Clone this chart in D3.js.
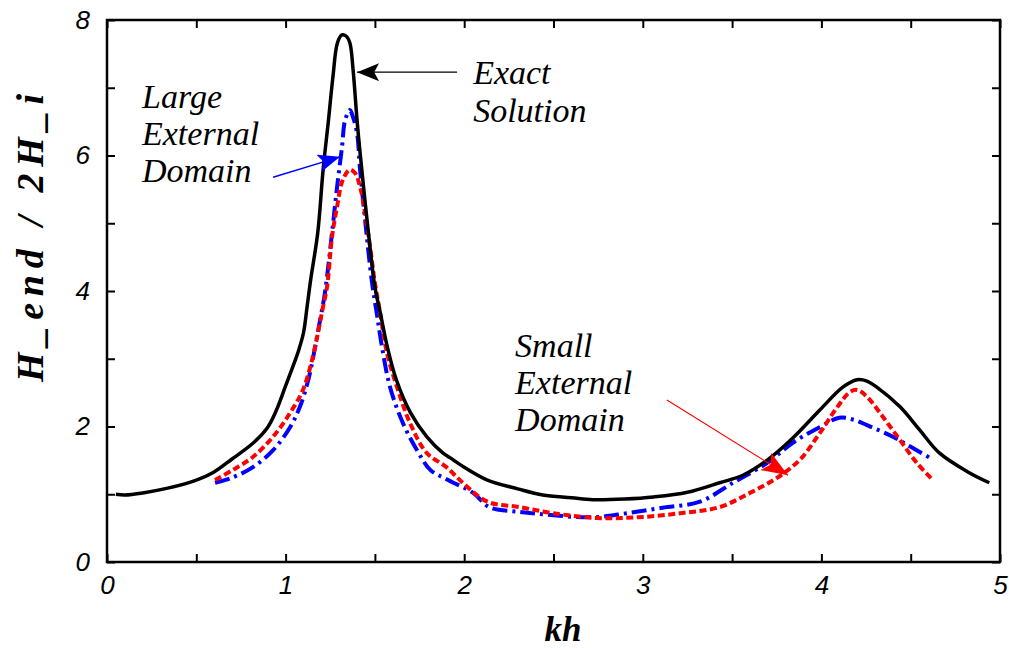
<!DOCTYPE html>
<html>
<head>
<meta charset="utf-8">
<script src="https://cdn.jsdelivr.net/npm/d3@7"></script>
<style>
  body { margin: 0; background: #fff; }
</style>
</head>
<body>
<svg id="chart" width="1009" height="648"></svg>
<script>
// --- values ---
const exactKh = [0.05, 0.1, 0.2, 0.34, 0.5, 0.6, 0.7, 0.82, 0.9, 0.95, 1.0, 1.05, 1.07, 1.1, 1.12, 1.14, 1.18, 1.21, 1.24, 1.265, 1.29, 1.315, 1.34, 1.36, 1.378, 1.4, 1.417, 1.456, 1.5, 1.53, 1.57, 1.62, 1.7, 1.79, 1.88, 1.92, 2.0, 2.13, 2.3, 2.44, 2.6, 2.72, 2.9, 3.06, 3.25, 3.43, 3.56, 3.7, 3.84, 3.99, 4.12, 4.2, 4.255, 4.31, 4.44, 4.55, 4.66, 4.82, 4.94];
const exactH  = [1.0, 0.99, 1.02, 1.09, 1.21, 1.33, 1.52, 1.76, 1.99, 2.25, 2.6, 2.95, 3.1, 3.38, 3.76, 4.16, 4.86, 5.79, 6.52, 7.16, 7.66, 7.78, 7.76, 7.66, 7.26, 6.52, 6.04, 5.05, 4.06, 3.68, 3.17, 2.69, 2.2, 1.85, 1.61, 1.54, 1.4, 1.21, 1.08, 0.99, 0.95, 0.92, 0.93, 0.96, 1.03, 1.17, 1.28, 1.51, 1.83, 2.24, 2.58, 2.69, 2.67, 2.58, 2.29, 1.95, 1.61, 1.33, 1.17];

const largeKh = [0.605, 0.705, 0.817, 0.93, 1.025, 1.08, 1.13, 1.165, 1.193, 1.22, 1.26, 1.288, 1.316, 1.333, 1.36, 1.377, 1.4, 1.417, 1.445, 1.484, 1.51, 1.54, 1.585, 1.657, 1.736, 1.81, 1.91, 2.05, 2.14, 2.31, 2.5, 2.72, 2.91, 3.11, 3.32, 3.505, 3.695, 3.84, 3.99, 4.1, 4.18, 4.255, 4.4, 4.5, 4.625];
const largeH  = [1.17, 1.25, 1.4, 1.65, 1.99, 2.29, 2.72, 3.17, 3.57, 3.97, 4.86, 5.53, 6.13, 6.52, 6.67, 6.57, 6.33, 5.79, 5.05, 4.12, 3.68, 3.17, 2.58, 2.05, 1.65, 1.36, 1.21, 1.02, 0.81, 0.74, 0.69, 0.66, 0.72, 0.8, 0.89, 1.17, 1.46, 1.76, 1.99, 2.13, 2.1, 2.02, 1.85, 1.7, 1.51];

const smallKh = [0.605, 0.705, 0.817, 0.93, 1.025, 1.097, 1.148, 1.181, 1.209, 1.232, 1.26, 1.288, 1.32, 1.36, 1.389, 1.417, 1.445, 1.473, 1.5, 1.529, 1.568, 1.624, 1.697, 1.79, 1.9, 2.0, 2.13, 2.31, 2.5, 2.74, 2.97, 3.21, 3.43, 3.6, 3.75, 3.88, 3.99, 4.09, 4.16, 4.2, 4.255, 4.345, 4.44, 4.535, 4.625];
const smallH  = [1.21, 1.36, 1.55, 1.85, 2.2, 2.54, 2.98, 3.38, 3.76, 4.06, 4.8, 5.24, 5.64, 5.79, 5.74, 5.54, 5.15, 4.65, 4.12, 3.68, 3.08, 2.58, 2.05, 1.61, 1.4, 1.15, 0.89, 0.81, 0.72, 0.65, 0.66, 0.72, 0.81, 1.02, 1.24, 1.51, 1.9, 2.29, 2.51, 2.54, 2.44, 2.14, 1.8, 1.46, 1.21];

const xTicks = [0, 0.5, 1, 1.5, 2, 2.5, 3, 3.5, 4, 4.5, 5];
const yTicks = [0, 1, 2, 3, 4, 5, 6, 7, 8];

const svg = d3.select('#chart');

const x = d3.scaleLinear().domain([0, 5]).range([107, 1000]);
const y = d3.scaleLinear().domain([0, 8]).range([562, 20]);

// arrow heads
const defs = svg.append('defs');
function head(id, color, len, half) {
  defs.append('marker')
    .attr('id', id)
    .attr('markerUnits', 'userSpaceOnUse')
    .attr('viewBox', `${-len} ${-half} ${len} ${2 * half}`)
    .attr('markerWidth', len)
    .attr('markerHeight', 2 * half)
    .attr('refX', 0)
    .attr('refY', 0)
    .attr('orient', 'auto')
    .append('path')
    .attr('d', `M0,0L${-len},${-half}L${-len * 0.78},0L${-len},${half}Z`)
    .attr('fill', color);
}
head('ah-black', '#000', 22, 9);
head('ah-blue', '#0000ff', 22, 9);
head('ah-red', '#ff0000', 26, 10);

// --- axes (ticks point inward on all four sides) ---
const fmtX = (d) => (d % 1 === 0 ? d : '');
const fmtY = (d) => (d % 2 === 0 ? d : '');

svg.append('g').attr('transform', `translate(0,${y(0)})`)
  .call(d3.axisBottom(x).tickValues(xTicks).tickSize(-8).tickPadding(14).tickFormat(fmtX));
svg.append('g').attr('transform', `translate(0,${y(8)})`)
  .call(d3.axisTop(x).tickValues(xTicks).tickSize(-8).tickFormat(''));
svg.append('g').attr('transform', `translate(${x(0)},0)`)
  .call(d3.axisLeft(y).tickValues(yTicks).tickSize(-8).tickPadding(17).tickFormat(fmtY));
svg.append('g').attr('transform', `translate(${x(5)},0)`)
  .call(d3.axisRight(y).tickValues(yTicks).tickSize(-8).tickFormat(''));

svg.selectAll('.domain').remove();
svg.selectAll('.tick line').attr('stroke', '#000').attr('stroke-width', 2);
svg.selectAll('.tick text')
  .attr('fill', '#000')
  .style('font-family', '"Liberation Sans", Arial, sans-serif')
  .style('font-style', 'italic')
  .style('font-size', '26px');

svg.append('rect')
  .attr('x', x(0)).attr('y', y(8))
  .attr('width', x(5) - x(0)).attr('height', y(0) - y(8))
  .attr('fill', 'none').attr('stroke', '#000').attr('stroke-width', 2.5);

// --- curves ---
const line = d3.line()
  .x((d) => x(d[0]))
  .y((d) => y(d[1]))
  .curve(d3.curveCatmullRom.alpha(0.5));

svg.append('path')
  .datum(d3.zip(largeKh, largeH))
  .attr('d', line)
  .attr('fill', 'none')
  .attr('stroke', '#0000ff')
  .attr('stroke-width', 4)
  .attr('stroke-dasharray', '15,5,3,5');

svg.append('path')
  .datum(d3.zip(smallKh, smallH))
  .attr('d', line)
  .attr('fill', 'none')
  .attr('stroke', '#ff0000')
  .attr('stroke-width', 4)
  .attr('stroke-dasharray', '7,3.5');

svg.append('path')
  .datum(d3.zip(exactKh, exactH))
  .attr('d', line)
  .attr('fill', 'none')
  .attr('stroke', '#000')
  .attr('stroke-width', 3.5)
  .attr('stroke-linejoin', 'round');

// --- annotations ---
const serif = '"Liberation Serif", "Times New Roman", serif';
function label(lines, x0, y0, step) {
  const t = svg.append('text')
    .attr('x', x(x0)).attr('y', y(y0))
    .style('font-family', serif)
    .style('font-style', 'italic')
    .style('font-size', '34px')
    .attr('fill', '#000');
  lines.forEach((s, i) => {
    t.append('tspan').attr('x', x(x0)).attr('dy', i === 0 ? 0 : step).text(s);
  });
}
label(['Large', 'External', 'Domain'], 0.196, 6.7, 37);
label(['Exact', 'Solution'], 2.05, 7.05, 38);
label(['Small', 'External', 'Domain'], 2.285, 3.02, 37);

function arrow(x1, y1, x2, y2, color, w, id) {
  svg.append('line')
    .attr('x1', x(x1)).attr('y1', y(y1))
    .attr('x2', x(x2)).attr('y2', y(y2))
    .attr('stroke', color).attr('stroke-width', w)
    .attr('marker-end', `url(#${id})`);
}
arrow(1.96, 7.23, 1.4, 7.23, '#000', 1.2, 'ah-black');
arrow(0.93, 5.68, 1.305, 5.98, '#0000ff', 1.5, 'ah-blue');
arrow(3.135, 2.39, 3.813, 1.28, '#ff0000', 1.1, 'ah-red');

// --- axis titles ---
svg.append('text')
  .attr('x', 563).attr('y', 641)
  .attr('text-anchor', 'middle')
  .style('font-family', serif)
  .style('font-style', 'italic')
  .style('font-weight', 'bold')
  .style('font-size', '35px')
  .text('kh');

svg.append('text')
  .attr('transform', 'translate(43,238) rotate(-90)')
  .attr('text-anchor', 'middle')
  .attr('textLength', 288)
  .attr('lengthAdjust', 'spacing')
  .style('font-family', serif)
  .style('font-style', 'italic')
  .style('font-weight', 'bold')
  .style('font-size', '38px')
  .text('H_end / 2H_i');
</script>
</body>
</html>
